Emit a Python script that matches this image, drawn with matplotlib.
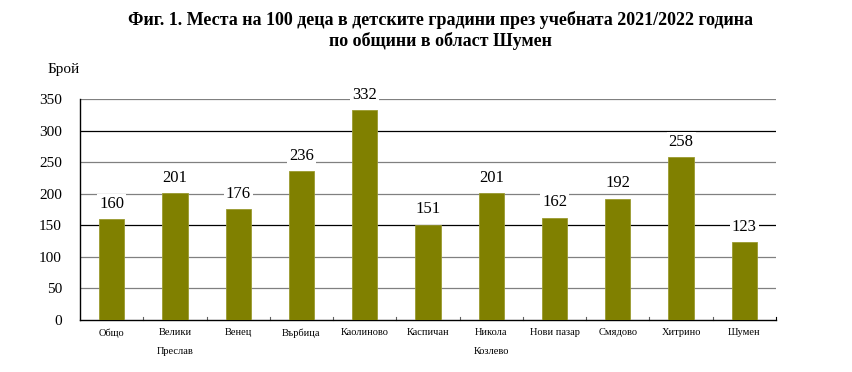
import matplotlib
matplotlib.use("Agg")
import matplotlib.pyplot as plt
import numpy as np

categories = ["Общо", "Велики\nПреслав", "Венец", "Върбица", "Каолиново", "Каспичан",
              "Никола\nКозлево", "Нови пазар", "Смядово", "Хитрино", "Шумен"]
values = [160, 201, 176, 236, 332, 151, 201, 162, 192, 258, 123]
yticks = [0, 50, 100, 150, 200, 250, 300, 350]

plt.rcParams['font.family'] = ['Liberation Serif', 'DejaVu Serif']

fig = plt.figure(figsize=(8.52, 3.72), dpi=100)
ax = fig.add_axes([80/852, 1-320/372, (776-80)/852, (320-99)/372])

x = np.arange(len(categories))
ax.bar(x, values, width=0.4, color='#808000', edgecolor='#9a9a30', linewidth=0.6, zorder=3)

for yv in yticks[1:]:
    col = 'black' if yv in (150, 300) else '#808080'
    ax.axhline(yv, color=col, linewidth=0.9, zorder=1)

for xi, v in zip(x, values):
    ax.annotate(str(v), (xi, v), xytext=(0, 11), textcoords='offset points',
                ha='center', va='center', fontsize=12,
                bbox=dict(facecolor='white', edgecolor='none', pad=1.5), zorder=4)

ax.set_xlim(-0.5, len(categories) - 0.5)
ax.set_ylim(0, 350)
ax.set_yticks(yticks)
ax.set_yticklabels([str(v) for v in yticks], fontsize=11)
ax.tick_params(axis='y', length=0, pad=13)

ax.set_xticks(x)
ax.set_xticklabels(categories, fontsize=7.5, linespacing=2.4, va='top')
ax.tick_params(axis='x', length=0, pad=6)
for b in np.arange(0.5, len(categories) - 0.5, 1.0):
    ax.plot([b, b], [0, 5], color='#606060', linewidth=0.8, zorder=2, clip_on=False)
ax.plot([len(categories) - 0.5] * 2, [0, 5], color='black', linewidth=0.8, clip_on=False)

for s in ['top', 'right']:
    ax.spines[s].set_visible(False)
ax.spines['left'].set_linewidth(1.0)
ax.spines['bottom'].set_linewidth(1.0)

fig.text(48/852, 1-70/372, "Брой", fontsize=11, ha='left', va='center')
fig.text(440/852, 1-20/372, "Фиг. 1. Места на 100 деца в детските градини през учебната 2021/2022 година",
         fontsize=13, fontweight='bold', ha='center', va='center')
fig.text(440/852, 1-41/372, "по общини в област Шумен",
         fontsize=13, fontweight='bold', ha='center', va='center')

fig.savefig("out.png", dpi=100)
